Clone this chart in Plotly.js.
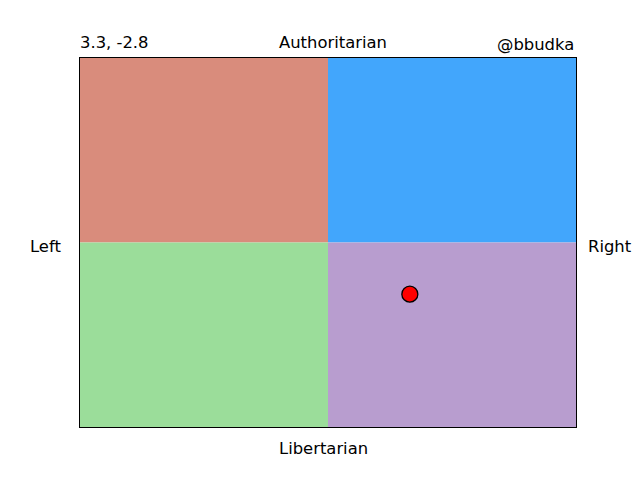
<!DOCTYPE html>
<html>
<head>
<meta charset="utf-8">
<script src="https://cdn.plot.ly/plotly-3.0.1.min.js"></script>
<style>body{margin:0;padding:0;background:#fff;}#chart{width:640px;height:480px;}</style>
</head>
<body>
<div id="chart"></div>
<script>
// Data
const pointX = [3.3];
const pointY = [-2.8];
const quadNames = ["Auth-Left", "Auth-Right", "Lib-Left", "Lib-Right"];
const quadX = [[-10, 0], [0, 10], [-10, 0], [0, 10]];
const quadY = [[0, 10], [0, 10], [-10, 0], [-10, 0]];
const quadColors = ["#d98c7c", "#42a6fc", "#9bdd9a", "#b89dcf"];
const axisRange = [-10, 10];

const shapes = quadNames.map((n, i) => ({
  type: "rect", xref: "x", yref: "y", layer: "below",
  x0: quadX[i][0], x1: quadX[i][1], y0: quadY[i][0], y1: quadY[i][1],
  fillcolor: quadColors[i], line: {width: 0}
}));

const font = {family: "DejaVu Sans", size: 16.4, color: "#000"};

const trace = {
  x: pointX, y: pointY, mode: "markers", type: "scatter",
  marker: {size: 16, color: "#ff0000", line: {color: "#000", width: 1.3}},
  hoverinfo: "none", showlegend: false
};

const layout = {
  width: 640, height: 480,
  margin: {l: 80, r: 64, t: 58, b: 53, pad: 0},
  paper_bgcolor: "#fff", plot_bgcolor: "#fff",
  showlegend: false,
  xaxis: {range: axisRange, showgrid: false, zeroline: false, showticklabels: false, ticks: "",
          showline: true, mirror: true, linecolor: "#000", linewidth: 1, fixedrange: true},
  yaxis: {range: axisRange, showgrid: false, zeroline: false, showticklabels: false, ticks: "",
          showline: true, mirror: true, linecolor: "#000", linewidth: 1, fixedrange: true},
  shapes: shapes,
  annotations: [
    {text: pointX[0] + ", " + pointY[0], xref: "paper", yref: "paper", x: 0, y: 1, xanchor: "left", yanchor: "bottom", xshift: -2, yshift: 4, showarrow: false, font: font},
    {text: "Authoritarian", xref: "paper", yref: "paper", x: 0.51, y: 1, xanchor: "center", yanchor: "bottom", yshift: 4, showarrow: false, font: font},
    {text: "@bbudka", xref: "paper", yref: "paper", x: 1, y: 1, xanchor: "right", yanchor: "bottom", yshift: 2, showarrow: false, font: font},
    {text: "Left", xref: "paper", yref: "paper", x: 0, y: 0.49, xanchor: "right", yanchor: "middle", xshift: -17, showarrow: false, font: font},
    {text: "Right", xref: "paper", yref: "paper", x: 1, y: 0.49, xanchor: "left", yanchor: "middle", xshift: 10, showarrow: false, font: font},
    {text: "Libertarian", xref: "paper", yref: "paper", x: 0.49, y: 0, xanchor: "center", yanchor: "top", yshift: -10, showarrow: false, font: font}
  ]
};

Plotly.newPlot("chart", [trace], layout, {displayModeBar: false, staticPlot: true});
</script>
</body>
</html>
